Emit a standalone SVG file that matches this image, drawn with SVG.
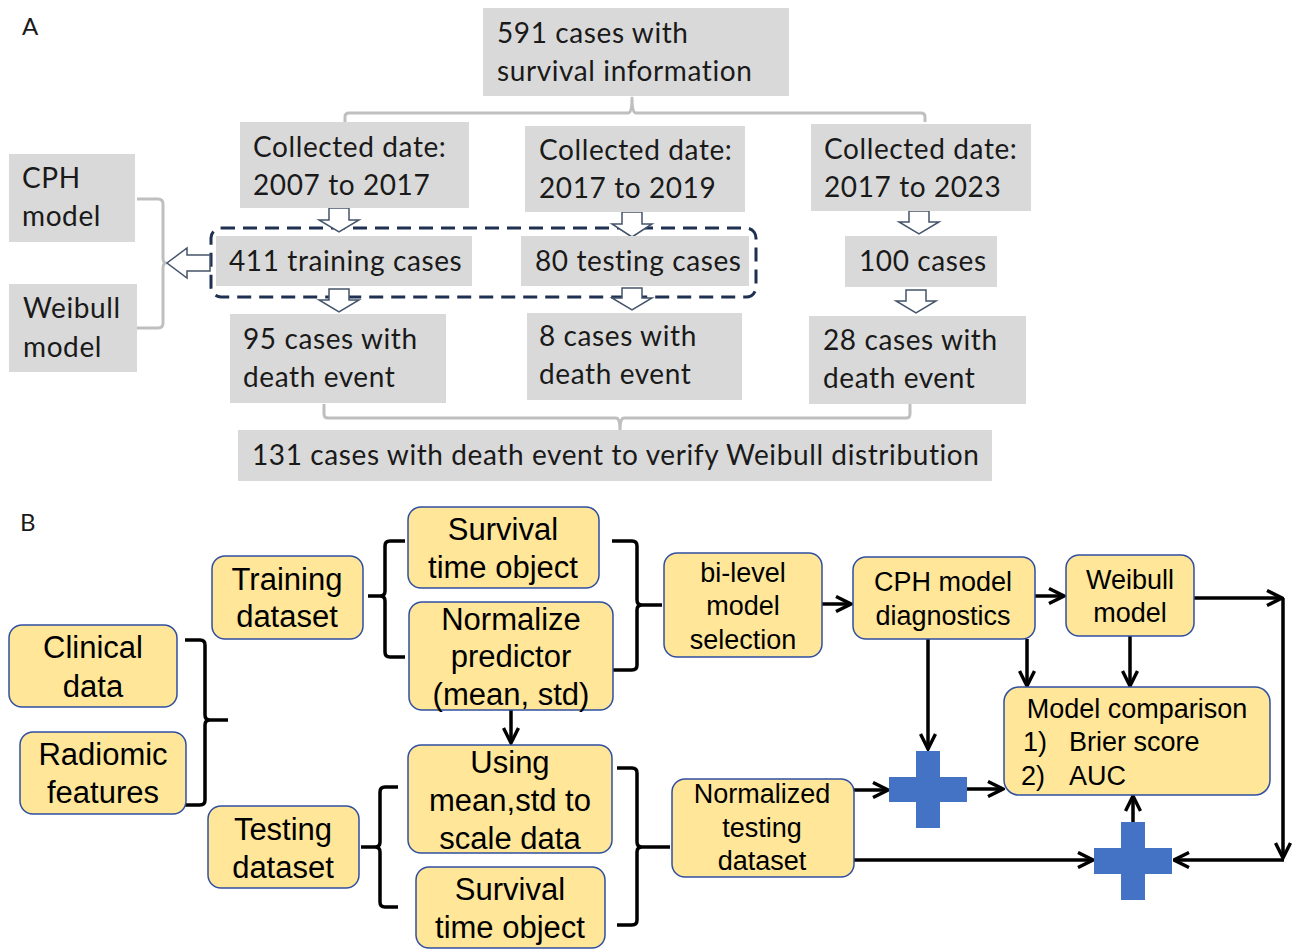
<svg xmlns="http://www.w3.org/2000/svg" width="1296" height="949" viewBox="0 0 1296 949">
<style>
.ga{fill:#d9d9d9;stroke:none}
.ta{font-family:Lato,"Liberation Sans",sans-serif;font-size:28px;letter-spacing:0.6px;fill:#1a1a1a}
.lbl{font-family:Lato,"Liberation Sans",sans-serif;font-size:24px;fill:#1a1a1a}
.gl{fill:none;stroke:#bfbfbf;stroke-width:3;stroke-linejoin:round}
.ha{fill:#fff;stroke:#44546a;stroke-width:1.5}
.yb{fill:#ffe699;stroke:#2f4fa0;stroke-width:1.5}
.tb{font-family:"Liberation Sans",Arial,sans-serif;font-size:31px;fill:#000;text-anchor:middle}
.ts{font-family:"Liberation Sans",Arial,sans-serif;font-size:27px;fill:#000;text-anchor:middle}
.bk{fill:none;stroke:#000;stroke-width:3.5;stroke-linejoin:round}
.ar{fill:none;stroke:#000;stroke-width:3.5}
.cross{fill:#4472c4}
</style>
<defs>
<marker id="ah" viewBox="0 0 12 12" refX="11" refY="6" markerWidth="18" markerHeight="18" markerUnits="userSpaceOnUse" orient="auto">
<path d="M1,1 L11,6 L1,11" fill="none" stroke="#000" stroke-width="2.3"/>
</marker>
</defs>
<rect width="1296" height="949" fill="#fff"/>

<text class="lbl" x="22" y="35">A</text>
<text class="lbl" x="20" y="531">B</text>

<!-- Part A connectors (gray brackets) -->
<g id="connectors-a">
<path class="gl" d="M345,122 L345,117 Q345,113 349,113 L628,113 Q632,113 632,98 Q632,113 636,113 L921,113 Q925,113 925,117 L925,122"/>
<path class="gl" d="M324,404 L324,414 Q324,418 328,418 L616,418 Q620,418 620,430 Q620,418 624,418 L906,418 Q910,418 910,414 L910,404"/>
<path class="gl" d="M137,199 L158,199 Q163,199 163,204 L163,258 Q163,263 166,263 Q163,263 163,268 L163,323 Q163,328 158,328 L137,328"/>
<rect x="211" y="228" width="545" height="69" rx="10" fill="none" stroke="#1f3050" stroke-width="3" stroke-dasharray="14 8"/>
<path class="ha" d="M329,208 L349,208 L349,220 L359,220 L339,232 L319,220 L329,220 Z"/>
<path class="ha" d="M622,212 L642,212 L642,224 L652,224 L632,237 L612,224 L622,224 Z"/>
<path class="ha" d="M909,211 L929,211 L929,222 L939,222 L919,234 L899,222 L909,222 Z"/>
<path class="ha" d="M329,289 L349,289 L349,300 L359,300 L339,312 L319,300 L329,300 Z"/>
<path class="ha" d="M622,288 L642,288 L642,298 L652,298 L632,310 L612,298 L622,298 Z"/>
<path class="ha" d="M906,290 L926,290 L926,301 L936,301 L916,313 L896,301 L906,301 Z"/>
<path class="ha" d="M210,255 L187,255 L187,248 L167,263 L187,278 L187,271 L210,271 Z"/>
</g>

<g id="a-total"><rect class="ga" x="483" y="8" width="306" height="88"/><text class="ta" x="497" y="43">591 cases with</text><text class="ta" x="497" y="81">survival information</text></g>
<g id="a-col1"><rect class="ga" x="240" y="122" width="229" height="86"/><text class="ta" x="253" y="157">Collected date:</text><text class="ta" x="253" y="195">2007 to 2017</text></g>
<g id="a-col2"><rect class="ga" x="525" y="126" width="220" height="86"/><text class="ta" x="539" y="160">Collected date:</text><text class="ta" x="539" y="198">2017 to 2019</text></g>
<g id="a-col3"><rect class="ga" x="811" y="124" width="220" height="87"/><text class="ta" x="824" y="159">Collected date:</text><text class="ta" x="824" y="197">2017 to 2023</text></g>
<g id="a-train"><rect class="ga" x="216" y="236" width="256" height="50"/><text class="ta" x="229" y="271">411 training cases</text></g>
<g id="a-test"><rect class="ga" x="521" y="236" width="228" height="50"/><text class="ta" x="535" y="271">80 testing cases</text></g>
<g id="a-100"><rect class="ga" x="845" y="236" width="152" height="51"/><text class="ta" x="859" y="271">100 cases</text></g>
<g id="a-d95"><rect class="ga" x="230" y="314" width="216" height="89"/><text class="ta" x="243" y="349">95 cases with</text><text class="ta" x="243" y="387">death event</text></g>
<g id="a-d8"><rect class="ga" x="527" y="313" width="215" height="87"/><text class="ta" x="539" y="346">8 cases with</text><text class="ta" x="539" y="384">death event</text></g>
<g id="a-d28"><rect class="ga" x="809" y="316" width="217" height="88"/><text class="ta" x="823" y="350">28 cases with</text><text class="ta" x="823" y="388">death event</text></g>
<g id="a-131"><rect class="ga" x="238" y="430" width="754" height="51"/><text class="ta" x="252" y="465">131 cases with death event to verify Weibull distribution</text></g>
<g id="a-cph"><rect class="ga" x="9" y="154" width="126" height="88"/><text class="ta" x="22" y="188">CPH</text><text class="ta" x="22" y="226">model</text></g>
<g id="a-weib"><rect class="ga" x="9" y="284" width="128" height="88"/><text class="ta" x="23" y="318">Weibull</text><text class="ta" x="23" y="357">model</text></g>

<!-- Part B connectors -->
<g id="connectors-b">
<path class="bk" d="M185,640 L200,640 Q205,640 205,645 L205,715 Q205,720 210,720 L228,720 M210,720 Q205,720 205,725 L205,800 Q205,805 200,805 L184,805"/>
<path class="bk" d="M405,541 L390,541 Q385,541 385,546 L385,591 Q385,596 380,596 L368,596 M380,596 Q385,596 385,601 L385,652 Q385,657 390,657 L405,657"/>
<path class="bk" d="M612,541 L632,541 Q637,541 637,546 L637,600 Q637,605 642,605 L662,605 M642,605 Q637,605 637,610 L637,665 Q637,670 632,670 L612,670"/>
<path class="bk" d="M398,787 L385,787 Q380,787 380,792 L380,842 Q380,847 375,847 L361,847 M375,847 Q380,847 380,852 L380,902 Q380,907 385,907 L398,907"/>
<path class="bk" d="M617,768 L632,768 Q637,768 637,773 L637,842 Q637,847 642,847 L670,847 M642,847 Q637,847 637,852 L637,920 Q637,925 632,925 L617,925"/>
<line class="ar" x1="511" y1="710" x2="511" y2="743" marker-end="url(#ah)"/>
<line class="ar" x1="822" y1="604" x2="851" y2="604" marker-end="url(#ah)"/>
<line class="ar" x1="1035" y1="596" x2="1064" y2="596" marker-end="url(#ah)"/>
<line class="ar" x1="1194" y1="598" x2="1282" y2="598" marker-end="url(#ah)"/>
<line class="ar" x1="1283" y1="598" x2="1283" y2="858" marker-end="url(#ah)"/>
<line class="ar" x1="1284" y1="860" x2="1174" y2="860" marker-end="url(#ah)"/>
<line class="ar" x1="928" y1="639" x2="928" y2="749" marker-end="url(#ah)"/>
<line class="ar" x1="1027" y1="639" x2="1027" y2="686" marker-end="url(#ah)"/>
<line class="ar" x1="1130" y1="636" x2="1130" y2="686" marker-end="url(#ah)"/>
<line class="ar" x1="854" y1="790" x2="888" y2="790" marker-end="url(#ah)"/>
<line class="ar" x1="967" y1="789" x2="1003" y2="789" marker-end="url(#ah)"/>
<line class="ar" x1="854" y1="860" x2="1093" y2="860" marker-end="url(#ah)"/>
<line class="ar" x1="1133" y1="822" x2="1133" y2="796" marker-end="url(#ah)"/>
</g>

<g id="b-clinical"><rect class="yb" x="9" y="625" width="168" height="82" rx="13"/><text class="tb" x="93" y="658">Clinical</text><text class="tb" x="93" y="697">data</text></g>
<g id="b-radiomic"><rect class="yb" x="20" y="732" width="166" height="82" rx="13"/><text class="tb" x="103" y="765">Radiomic</text><text class="tb" x="103" y="803">features</text></g>
<g id="b-training"><rect class="yb" x="212" y="556" width="151" height="83" rx="13"/><text class="tb" x="287" y="590">Training</text><text class="tb" x="287" y="627">dataset</text></g>
<g id="b-testing"><rect class="yb" x="208" y="806" width="151" height="82" rx="13"/><text class="tb" x="283" y="840">Testing</text><text class="tb" x="283" y="878">dataset</text></g>
<g id="b-surv1"><rect class="yb" x="408" y="507" width="191" height="81" rx="13"/><text class="tb" x="503" y="540">Survival</text><text class="tb" x="503" y="578">time object</text></g>
<g id="b-norm"><rect class="yb" x="409" y="602" width="204" height="108" rx="13"/><text class="tb" x="511" y="630">Normalize</text><text class="tb" x="511" y="667">predictor</text><text class="tb" x="511" y="705">(mean, std)</text></g>
<g id="b-using"><rect class="yb" x="408" y="745" width="204" height="108" rx="13"/><text class="tb" x="510" y="773">Using</text><text class="tb" x="510" y="811">mean,std to</text><text class="tb" x="510" y="849">scale data</text></g>
<g id="b-surv2"><rect class="yb" x="416" y="867" width="189" height="81" rx="13"/><text class="tb" x="510" y="900">Survival</text><text class="tb" x="510" y="938">time object</text></g>
<g id="b-bilevel"><rect class="yb" x="664" y="553" width="158" height="104" rx="13"/><text class="ts" x="743" y="582">bi-level</text><text class="ts" x="743" y="615">model</text><text class="ts" x="743" y="649">selection</text></g>
<g id="b-cph"><rect class="yb" x="853" y="557" width="182" height="82" rx="13"/><text class="ts" x="943" y="591">CPH model</text><text class="ts" x="943" y="625">diagnostics</text></g>
<g id="b-weibull"><rect class="yb" x="1066" y="555" width="128" height="81" rx="13"/><text class="ts" x="1130" y="589">Weibull</text><text class="ts" x="1130" y="622">model</text></g>
<g id="b-compare"><rect class="yb" x="1004" y="687" width="266" height="108" rx="15"/><text class="ts" x="1137" y="718">Model comparison</text><text class="ts" x="1023" y="751" style="text-anchor:start">1)</text><text class="ts" x="1069" y="751" style="text-anchor:start">Brier score</text><text class="ts" x="1021" y="785" style="text-anchor:start">2)</text><text class="ts" x="1069" y="785" style="text-anchor:start">AUC</text></g>
<g id="b-normtest"><rect class="yb" x="672" y="779" width="182" height="98" rx="13"/><text class="ts" x="762" y="803">Normalized</text><text class="ts" x="762" y="837">testing</text><text class="ts" x="762" y="870">dataset</text></g>
<g id="b-plus1"><path class="cross" d="M916,751 L940,751 L940,777 L967,777 L967,802 L940,802 L940,828 L916,828 L916,802 L889,802 L889,777 L916,777 Z"/></g>
<g id="b-plus2"><path class="cross" d="M1121,822 L1145,822 L1145,848 L1172,848 L1172,874 L1145,874 L1145,900 L1121,900 L1121,874 L1094,874 L1094,848 L1121,848 Z"/></g>
</svg>
